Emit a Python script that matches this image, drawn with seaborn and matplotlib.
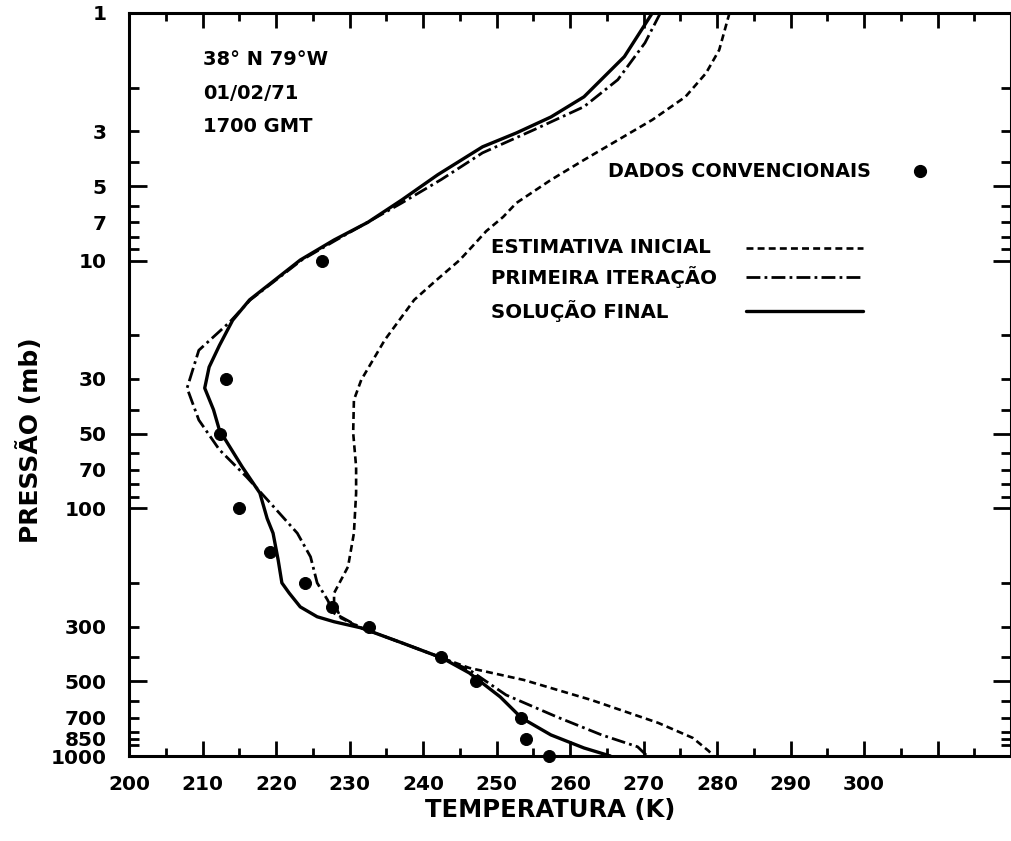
import matplotlib
matplotlib.use('Agg')
import matplotlib.pyplot as plt
import seaborn as sns
import numpy as np
from matplotlib.lines import Line2D


# Perfil de temperatura (K) em função da pressão (mb)
p_final = [1, 1.5, 2.18, 2.63, 3.05, 3.47, 4.5, 5.69, 7, 8.25, 9.94, 14.4, 17.4, 22, 26.9,
           32.7, 40, 48.3, 68, 86.7, 110, 126, 162, 200, 220, 250, 274, 287, 304, 349, 402,
           462, 577, 702, 822, 928, 1000]
t_final = [271.2, 267.4, 261.9, 257.4, 252.7, 248.1, 242.0, 237.1, 232.5, 227.9, 223.3, 216.4,
           214.1, 212.3, 210.9, 210.3, 211.5, 212.3, 215.4, 217.8, 218.8, 219.6, 220.3, 220.8,
           221.8, 223.3, 225.6, 227.9, 231.6, 237.1, 242.6, 246.3, 250.5, 253.4, 257.4, 261.9,
           265.5]

p_primeira = [1, 1.32, 1.86, 2.39, 2.97, 3.67, 4.7, 5.85, 8.25, 9.94, 14.4, 17.7, 23, 32.7,
              44, 58, 74.7, 95, 126, 157, 200, 234, 265, 304, 349, 402, 449, 567, 695, 822,
              918, 1000]
t_primeira = [272.3, 270.2, 266.5, 261.9, 255.0, 248.1, 242.5, 237.1, 228.2, 223.5, 216.5,
              213.7, 209.5, 207.9, 209.5, 212.3, 216.0, 219.2, 222.9, 224.7, 225.6, 227.0,
              227.9, 231.6, 237.1, 242.6, 246.3, 251.3, 258.2, 264.3, 269.2, 270.5]

p_inicial = [1, 1.41, 1.75, 2.18, 2.7, 3.26, 3.92, 4.72, 5.85, 6.66, 7.6, 8.7, 9.94, 12, 14.4,
             20.9, 30.3, 36.5, 49.6, 68, 86.7, 126, 172, 220, 240, 277, 304, 349, 402, 441,
             493, 594, 735, 845, 956, 1000]
t_inicial = [281.7, 280.3, 278.5, 275.7, 271.2, 266.5, 261.9, 257.4, 252.7, 250.9, 248.6,
             246.8, 245.0, 241.8, 238.8, 234.8, 231.6, 230.6, 230.5, 230.9, 230.9, 230.6,
             229.8, 227.9, 227.9, 228.8, 231.6, 237.1, 242.6, 246.3, 253.7, 262.9, 272.0,
             276.7, 278.9, 279.5]

# Dados convencionais (radiossondagem)
p_dados = [10, 30, 50, 100, 150, 200, 250, 300, 400, 500, 700, 850, 1000]
t_dados = [226.3, 213.2, 212.4, 215.0, 219.2, 223.9, 227.6, 232.6, 242.5, 247.2, 253.4,
           254.0, 257.2]

# Marcas do eixo de pressão
p_rotulos_maiores = [1, 5, 10, 50, 100, 500, 1000]
p_rotulos_menores = [3, 7, 30, 70, 300, 700, 850]
p_sem_rotulo = [2, 4, 6, 8, 9, 20, 40, 60, 80, 90, 200, 400, 600, 800, 900]

sns.set_style('ticks')
plt.rcParams['font.family'] = ['DejaVu Sans']
plt.rcParams['font.weight'] = 'bold'
plt.rcParams['text.color'] = 'black'
plt.rcParams['axes.labelcolor'] = 'black'
plt.rcParams['xtick.color'] = 'black'
plt.rcParams['ytick.color'] = 'black'
plt.rcParams['lines.scale_dashes'] = False

fig = plt.figure(figsize=(10.11, 8.41), dpi=100)
ax = fig.add_axes([129 / 1011, 1 - 756 / 841, 882 / 1011, 743 / 841])

TRACO = (0, (5, 3))
TRACO_PONTO = (0, (10, 3, 2, 3))

sns.lineplot(x=t_inicial, y=p_inicial, sort=False, estimator=None, color='black',
             lw=1.9, linestyle=TRACO, ax=ax)
sns.lineplot(x=t_primeira, y=p_primeira, sort=False, estimator=None, color='black',
             lw=2.0, linestyle=TRACO_PONTO, ax=ax)
sns.lineplot(x=t_final, y=p_final, sort=False, estimator=None, color='black',
             lw=2.4, ax=ax)
sns.scatterplot(x=t_dados, y=p_dados, color='black', s=75, edgecolor='black',
                zorder=5, clip_on=False, ax=ax)

ax.set_yscale('log')
ax.set_ylim(1000, 1)
ax.set_xlim(200, 320)

# Eixo x
ax.set_xticks(np.arange(200, 321, 10))
ax.set_xticklabels([str(v) if v <= 300 else '' for v in range(200, 321, 10)])
ax.set_xticks(np.arange(205, 320, 10), minor=True)

# Eixo y
ax.set_yticks(p_rotulos_maiores)
ax.set_yticklabels([str(v) for v in p_rotulos_maiores])
ax.set_yticks(p_rotulos_menores + p_sem_rotulo, minor=True)
ax.set_yticklabels([str(v) for v in p_rotulos_menores] + [''] * len(p_sem_rotulo), minor=True)

ax.tick_params(which='both', direction='in', top=True, right=True, width=2,
               labelsize=14.5, color='black')
ax.tick_params(axis='x', which='both', pad=14)
ax.tick_params(axis='y', which='both', pad=16)
ax.tick_params(axis='x', which='major', length=11)
ax.tick_params(axis='x', which='minor', length=6)
ax.tick_params(axis='y', which='major', length=13)
ax.tick_params(axis='y', which='minor', length=7)
for lab in ax.get_xticklabels() + ax.get_yticklabels() + ax.get_yticklabels(minor=True):
    lab.set_fontweight('bold')

for lado in ['left', 'right', 'top', 'bottom']:
    ax.spines[lado].set_linewidth(2.2)
    ax.spines[lado].set_color('black')

ax.set_xlabel('TEMPERATURA (K)', fontsize=17.5, fontweight='bold')
ax.set_ylabel('PRESSÃO (mb)', fontsize=18, fontweight='bold')
ax.xaxis.label.set_va('center')
ax.yaxis.label.set_va('center')
ax.xaxis.set_label_coords(0.477, -54 / 743)
ax.yaxis.set_label_coords(-99 / 882, 0.425)

# Identificação da sondagem
for i, txt in enumerate(['38° N 79°W', '01/02/71', '1700 GMT']):
    ax.text(0.084, 0.937 - i * 0.045, txt, transform=ax.transAxes, fontsize=14,
            fontweight='bold', va='center', ha='left')

# Legenda
ax.text(0.543, 0.787, 'DADOS CONVENCIONAIS', transform=ax.transAxes, fontsize=13.8,
        fontweight='bold', va='center', ha='left')
ax.add_line(Line2D([0.897], [0.787], transform=ax.transAxes, marker='o', markersize=8.5,
                   color='black', linestyle='none'))

legenda = [('ESTIMATIVA INICIAL', TRACO, 1.9, 0.684),
           ('PRIMEIRA ITERAÇÃO', TRACO_PONTO, 2.0, 0.645),
           ('SOLUÇÃO FINAL', '-', 2.4, 0.599)]
for rotulo, estilo, lw, yy in legenda:
    ax.text(0.410, yy, rotulo, transform=ax.transAxes, fontsize=14.2, fontweight='bold',
            va='center', ha='left')
    ax.add_line(Line2D([0.699, 0.832], [yy, yy], transform=ax.transAxes, color='black',
                       lw=lw, linestyle=estilo))

fig.savefig('out.png', dpi=100)
